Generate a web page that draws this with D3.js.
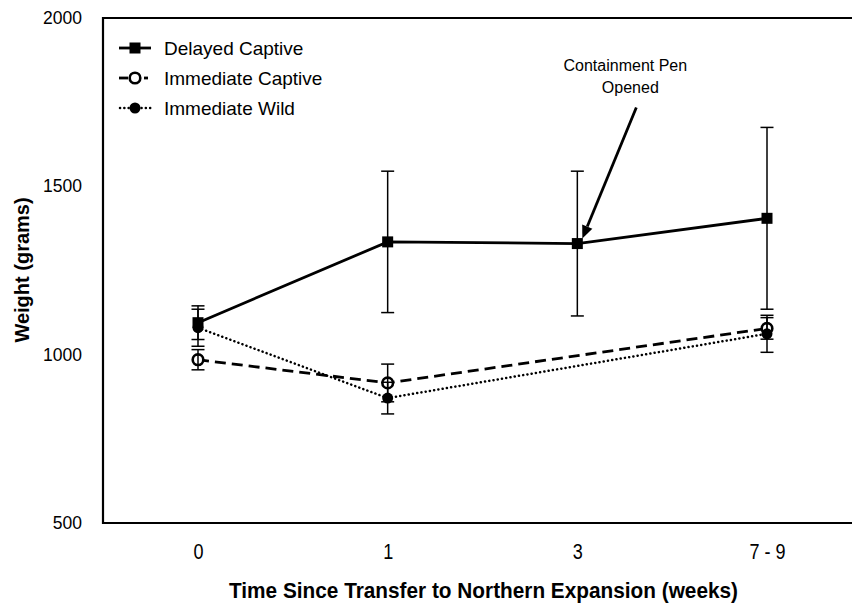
<!DOCTYPE html>
<html><head><meta charset="utf-8">
<script src="https://cdn.jsdelivr.net/npm/d3@7"></script>
<style>
html,body{margin:0;padding:0;background:#fff;}
svg{display:block;}
.sans{font-family:"Liberation Sans",Arial,Helvetica,sans-serif;}
</style>
</head><body>
<svg id="chart" width="852" height="604"></svg>
<script>
// ---- data ----
const categories = ["0", "1", "3", "7 - 9"];
const delayedCaptive = [1095, 1335, 1330, 1405];
const delayedCaptiveErr = [50, 210, 215, 270];
const immediateCaptive = [985, 916, null, 1078];
const immediateCaptiveErr = [30, 56, null, 32];
const immediateWild = [1080, 871, null, 1062];
const immediateWildErr = [55, 47, null, 55];
const yTicks = [500, 1000, 1500, 2000];
const seriesNames = ["Delayed Captive", "Immediate Captive", "Immediate Wild"];
const annotationLines = ["Containment Pen", "Opened"];
const xTitle = "Time Since Transfer to Northern Expansion (weeks)";
const yTitle = "Weight (grams)";

const svg = d3.select("#chart");
const plot = {left: 103, top: 18, right: 870, bottom: 523};

const x = d3.scalePoint().domain(categories).range([198, 767]);
const y = d3.scaleLinear().domain([500, 2000]).range([plot.bottom, plot.top]);

function build(vals, errs) {
  return categories.map((c, i) => ({c, v: vals[i], e: errs[i]})).filter(d => d.v != null);
}
const series = [
  {name: seriesNames[0], data: build(delayedCaptive, delayedCaptiveErr), dash: null, marker: "square"},
  {name: seriesNames[1], data: build(immediateCaptive, immediateCaptiveErr), dash: "11,6", marker: "open"},
  {name: seriesNames[2], data: build(immediateWild, immediateWildErr), dash: "0.1,4.2", marker: "dot"}
];

// frame
svg.append("path")
  .attr("d", `M${plot.right},${plot.top}H${plot.left}V${plot.bottom}H${plot.right}`)
  .attr("fill", "none").attr("stroke", "#000").attr("stroke-width", 2.2);

// y axis labels
const yAxis = d3.axisLeft(y).tickValues(yTicks).tickSize(0).tickPadding(21).tickFormat(d3.format("d"));
const gy = svg.append("g").attr("transform", `translate(${plot.left},0)`).call(yAxis);
gy.select(".domain").remove();
gy.selectAll("text").attr("class", "sans").style("font-size", "17.5px").attr("fill", "#000");

// x axis labels (condensed look)
const xAxis = d3.axisBottom(x).tickSize(0).tickPadding(0);
const gx = svg.append("g").attr("transform", `translate(0,${plot.bottom})`).call(xAxis);
gx.select(".domain").remove();
gx.selectAll("text").attr("class", "sans").style("font-size", "22px").attr("fill", "#000")
  .attr("dy", null).attr("y", 0)
  .attr("transform", "translate(0,36) scale(0.82,1)");

// axis titles
svg.append("text").attr("class", "sans")
  .attr("x", 229).attr("y", 598)
  .attr("textLength", 509).attr("lengthAdjust", "spacingAndGlyphs")
  .style("font-size", "22px").style("font-weight", "bold").text(xTitle);
svg.append("text").attr("class", "sans")
  .attr("transform", "translate(29,270) rotate(-90)").attr("text-anchor", "middle")
  .style("font-size", "20px").style("font-weight", "bold").text(yTitle);

// lines
const line = d3.line().x(d => x(d.c)).y(d => y(d.v));
series.forEach(s => {
  svg.append("path").datum(s.data).attr("d", line)
    .attr("fill", "none").attr("stroke", "#000")
    .attr("stroke-width", s.marker === "dot" ? 2.5 : 2.8)
    .attr("stroke-linecap", s.marker === "dot" ? "round" : "butt")
    .attr("stroke-dasharray", s.dash);
});

function drawMarker(g, type, cx, cy) {
  if (type === "square") {
    g.append("rect").attr("x", cx - 5.5).attr("y", cy - 5.5).attr("width", 11).attr("height", 11).attr("fill", "#000");
  } else if (type === "open") {
    g.append("circle").attr("cx", cx).attr("cy", cy).attr("r", 5.3).attr("fill", "#fff").attr("stroke", "#000").attr("stroke-width", 2.6);
  } else {
    g.append("circle").attr("cx", cx).attr("cy", cy).attr("r", 5.5).attr("fill", "#000");
  }
}

// markers
series.forEach(s => {
  const g = svg.append("g");
  s.data.forEach(d => drawMarker(g, s.marker, x(d.c), y(d.v)));
});

// error bars
series.forEach(s => {
  const g = svg.append("g").attr("stroke", "#000").attr("stroke-width", 1.5);
  s.data.forEach(d => {
    const cx = x(d.c);
    g.append("line").attr("x1", cx).attr("x2", cx).attr("y1", y(d.v - d.e)).attr("y2", y(d.v + d.e));
    [d.v - d.e, d.v + d.e].forEach(v => {
      g.append("line").attr("x1", cx - 6.5).attr("x2", cx + 6.5).attr("y1", y(v)).attr("y2", y(v));
    });
  });
});

// legend
const leg = svg.append("g");
series.forEach((s, i) => {
  const ly = 48 + i * 30;
  const cx = 135;
  if (s.marker === "square") {
    leg.append("line").attr("x1", 119).attr("x2", 151).attr("y1", ly).attr("y2", ly).attr("stroke", "#000").attr("stroke-width", 2.8);
  } else if (s.marker === "open") {
    leg.append("line").attr("x1", 119).attr("x2", 128).attr("y1", ly).attr("y2", ly).attr("stroke", "#000").attr("stroke-width", 2.8);
    leg.append("line").attr("x1", 144).attr("x2", 148).attr("y1", ly).attr("y2", ly).attr("stroke", "#000").attr("stroke-width", 2.8);
  } else {
    leg.append("line").attr("x1", 120).attr("x2", 151).attr("y1", ly).attr("y2", ly).attr("stroke", "#000").attr("stroke-width", 2.5)
      .attr("stroke-linecap", "round").attr("stroke-dasharray", "0.1,4.2");
  }
  drawMarker(leg, s.marker, cx, ly);
  leg.append("text").attr("class", "sans").attr("x", 164).attr("y", ly).attr("dy", "0.35em")
    .style("font-size", "19px").text(s.name);
});

// annotation
const ax = x("3"), ay = y(delayedCaptive[2]);
const tip = [ax + 5, ay - 5];
const start = [ax + 59, ay - 136];
const ang = Math.atan2(tip[1] - start[1], tip[0] - start[0]);
const hl = 13, hw = 5.5;
const base = [tip[0] - hl * Math.cos(ang), tip[1] - hl * Math.sin(ang)];
svg.append("line").attr("x1", start[0]).attr("y1", start[1]).attr("x2", base[0]).attr("y2", base[1])
  .attr("stroke", "#000").attr("stroke-width", 2.8);
svg.append("path").attr("d", d3.line()([
  tip,
  [base[0] + hw * Math.sin(ang), base[1] - hw * Math.cos(ang)],
  [base[0] - hw * Math.sin(ang), base[1] + hw * Math.cos(ang)]
]) + "Z").attr("fill", "#000");
const at = svg.append("text").attr("class", "sans").attr("text-anchor", "middle").style("font-size", "16px");
annotationLines.forEach((t, i) => {
  at.append("tspan").attr("x", ax + (i === 0 ? 48 : 53)).attr("y", 71 + i * 22).text(t);
});
</script>
</body></html>
